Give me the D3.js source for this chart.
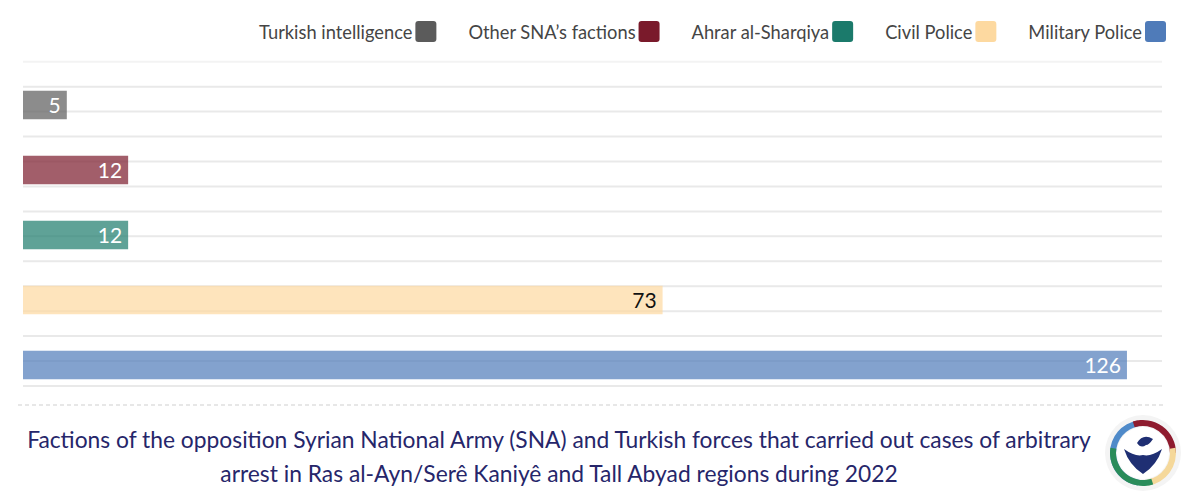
<!DOCTYPE html>
<html>
<head>
<meta charset="utf-8">
<script src="https://cdn.jsdelivr.net/npm/d3@7"></script>
<style>
  html, body { margin: 0; padding: 0; background: #fff; }
  svg { display: block; font-family: "Lato", "Noto Sans", sans-serif; }
</style>
</head>
<body>
<svg id="chart" width="1200" height="500"></svg>
<script>
// ---- data ----
const categories = ["Turkish intelligence", "Other SNA\u2019s factions", "Ahrar al-Sharqiya", "Civil Police", "Military Police"];
const values = [5, 12, 12, 73, 126];
const colors = ["#5b5b5b", "#7a1a2b", "#1b7a6b", "#fdd9a0", "#4f7bb9"];
const labelColors = ["#ffffff", "#ffffff", "#ffffff", "#111111", "#ffffff"];
const gridTicks = d3.range(0, 14);
const titleLines = [
  "Factions of the opposition Syrian National Army (SNA) and Turkish forces that carried out cases of arbitrary",
  "arrest in Ras al-Ayn/Ser\u00ea Kaniy\u00ea and Tall Abyad regions during 2022"
];

const svg = d3.select("#chart");

// scales
const x = d3.scaleLinear().domain([0, 130]).range([23, 1162]);
const y = d3.scaleBand().domain(categories).range([72.5, 397.5]).paddingInner(0.56).paddingOuter(0.28);
const g = d3.scaleLinear().domain([0, 13]).range([61.7, 386]);

// gridlines
svg.append("g").selectAll("line").data(gridTicks).join("line")
  .attr("x1", x(0)).attr("x2", x(130))
  .attr("y1", d => g(d)).attr("y2", d => g(d))
  .attr("stroke", d => d === 0 ? "#f3f3f3" : "#e9e9e9")
  .attr("stroke-width", 2);

// bars
const data = categories.map((c, i) => ({ c, v: values[i], col: colors[i], lc: labelColors[i] }));
const bh = 28.5;
svg.append("g").selectAll("rect").data(data).join("rect")
  .attr("x", x(0))
  .attr("y", d => y(d.c) + y.bandwidth() / 2 - bh / 2)
  .attr("width", d => x(d.v) - x(0))
  .attr("height", bh)
  .attr("fill", d => d.col)
  .attr("fill-opacity", 0.7);

svg.append("g").selectAll("text").data(data).join("text")
  .attr("x", d => x(d.v) - 6)
  .attr("y", d => y(d.c) + y.bandwidth() / 2)
  .attr("dy", "0.36em")
  .attr("text-anchor", "end")
  .attr("font-size", 21)
  .attr("fill", d => d.lc)
  .text(d => d.v);

// legend (right aligned)
const leg = svg.append("g");
let right = 1166;
for (let i = data.length - 1; i >= 0; i--) {
  const d = data[i];
  const sw = 21;
  leg.append("rect").attr("x", right - sw).attr("y", 21).attr("width", sw).attr("height", sw)
    .attr("rx", 3).attr("fill", d.col);
  const t = leg.append("text").attr("x", right - sw - 3).attr("y", 39)
    .attr("text-anchor", "end").attr("font-size", 18.3).attr("fill", "#454545").text(d.c);
  const w = t.node().getComputedTextLength();
  right = right - sw - 3 - w - 32;
}

// dashed separator
svg.append("line").attr("x1", 18).attr("x2", 1166).attr("y1", 405).attr("y2", 405)
  .attr("stroke", "#cfcfcf").attr("stroke-width", 1).attr("stroke-dasharray", "4,3");

// title
svg.append("g").selectAll("text").data(titleLines).join("text")
  .attr("x", 559).attr("y", (d, i) => 448 + i * 34)
  .attr("text-anchor", "middle").attr("font-size", 22.8).attr("fill", "#26266a")
  .text(d => d);

// logo
const logo = svg.append("g").attr("transform", "translate(1143,453)");
const arc = d3.arc().innerRadius(27).outerRadius(33);
const segs = [
  { s: -Math.PI * 0.95, e: -Math.PI * 0.05, c: "#4f8ac9" },
  { s: -Math.PI * 0.1, e: Math.PI * 0.5, c: "#8e1b2e" },
  { s: Math.PI * 0.45, e: Math.PI * 0.95, c: "#f5d89a" },
  { s: Math.PI * 0.9, e: Math.PI * 1.55, c: "#2a8c5a" }
];
logo.append("circle").attr("r", 38).attr("fill", "#f4f4f4");
logo.selectAll("path.seg").data(segs).join("path").attr("class", "seg")
  .attr("d", d => arc({ startAngle: d.s, endAngle: d.e })).attr("fill", d => d.c);
logo.append("circle").attr("r", 26).attr("fill", "#ffffff");
logo.append("path")
  .attr("d", "M-19,-4 Q-8,4 0,2 Q8,4 19,-4 Q14,12 0,21 Q-14,12 -19,-4 Z")
  .attr("fill", "#1f2f73");
logo.append("path")
  .attr("d", "M-6,-10 Q0,-20 10,-14 Q6,-8 3,-8 Q-2,-4 -6,-10 Z")
  .attr("fill", "#1f2f73");
</script>
</body>
</html>
